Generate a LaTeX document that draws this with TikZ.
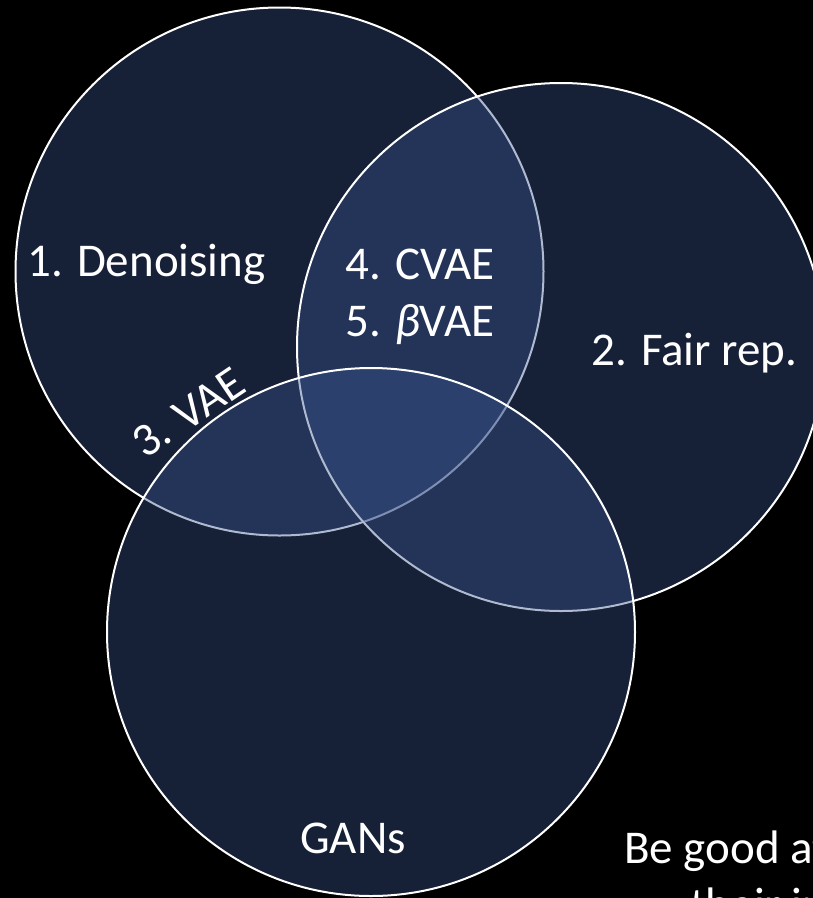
\documentclass[tikz,border=0pt]{standalone}
\usepackage{fontspec}
\setmainfont{Carlito}
\definecolor{vennblue}{RGB}{55,82,138}
\begin{document}
\begin{tikzpicture}[x=1pt,y=-1pt,
  venn/.style={circle, draw=white, line width=2pt, fill=vennblue,
    fill opacity=0.4, minimum size=528pt, inner sep=0pt},
  lbl/.style={text=white, font=\fontsize{47}{57}\selectfont, inner sep=0pt}]
\fill[black] (0,0) rectangle (813,898);
\useasboundingbox (0,0) rectangle (813,898);
\clip (0,0) rectangle (813,898);

% the three sets, drawn in order so later fills veil earlier outlines
\node[venn] (setA) at (279.5,271.5) {};
\node[venn] (setB) at (561,347) {};
\node[venn] (setC) at (371,632) {};

% labels
\node[lbl, anchor=base west] (denoise) at (27,276) {1. Denoising};
\node[lbl, anchor=base west, align=left] (cvae) at (345,336)
  {4. CVAE\\5. {\itshape β}VAE};
\node[lbl, anchor=base west] (fair) at (591,365) {2. Fair rep.};
\node[lbl, rotate=34, anchor=base west] (vae) at (145,460) {3. VAE};
\node[lbl, anchor=base] (gans) at (353,853) {GANs};
\node[lbl, anchor=base west] (note) at (624,863) {Be good at};
\node[lbl, anchor=base west] (note2) at (690,920) {their input};
\end{tikzpicture}
\end{document}
